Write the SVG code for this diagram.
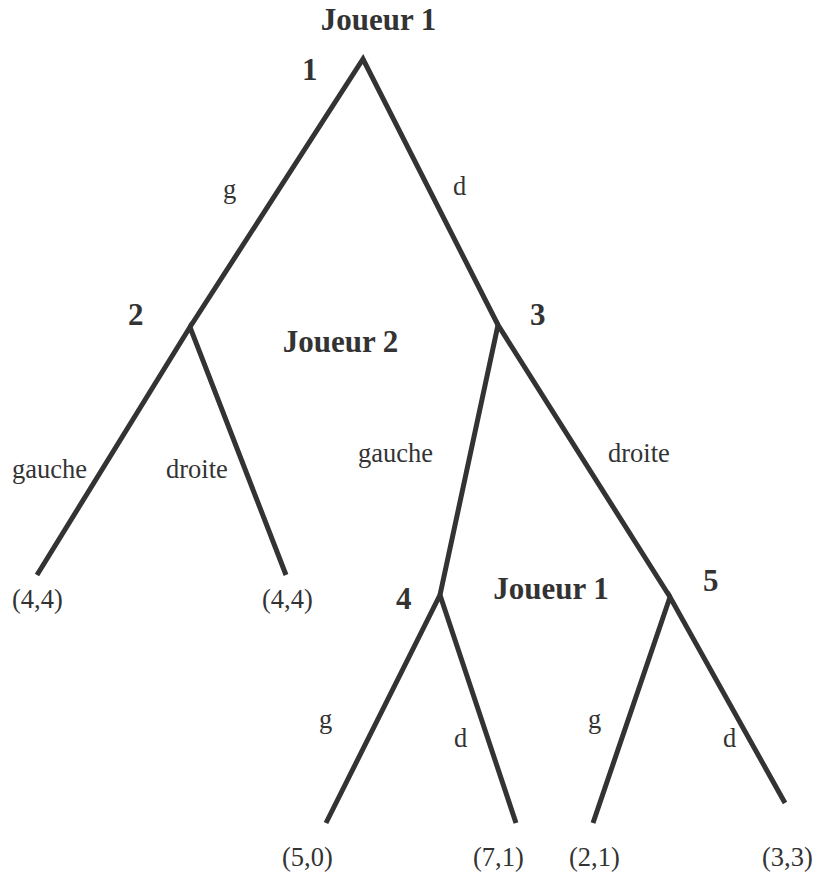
<svg xmlns="http://www.w3.org/2000/svg" width="813" height="874" viewBox="0 0 813 874">
<style>
.e{fill:none;stroke:#333;stroke-width:5;stroke-linecap:butt;stroke-linejoin:miter}
.b{font-family:"Liberation Serif","Times New Roman",serif;font-weight:bold;font-size:31px;fill:#333}
.r{font-family:"Liberation Serif","Times New Roman",serif;font-size:26.5px;fill:#333}
</style>
<rect width="813" height="874" fill="#fff"/>
<g id="connectors">
<polyline class="e" points="190,327 363,59 498,325"/>
<polyline class="e" points="37,575 190,327 286,575"/>
<polyline class="e" points="440,595 498,325 670,597"/>
<polyline class="e" points="326,823 440,595 516,823"/>
<polyline class="e" points="593,823 670,597 785,803"/>
<text class="r" x="223" y="198">g</text>
<text class="r" x="453" y="195">d</text>
<text class="r" x="12" y="478">gauche</text>
<text class="r" x="166" y="478">droite</text>
<text class="r" x="358" y="462">gauche</text>
<text class="r" x="608" y="462">droite</text>
<text class="r" x="319" y="728">g</text>
<text class="r" x="454" y="747">d</text>
<text class="r" x="588" y="728">g</text>
<text class="r" x="723" y="747">d</text>
</g>
<g id="node1">
<text class="b" x="378.5" y="30" text-anchor="middle">Joueur 1</text>
<text class="b" x="302" y="80">1</text>
</g>
<g id="node2">
<text class="b" x="128" y="325">2</text>
</g>
<g id="player2">
<text class="b" x="340.5" y="352" text-anchor="middle">Joueur 2</text>
</g>
<g id="node3">
<text class="b" x="530" y="325">3</text>
</g>
<g id="node4">
<text class="b" x="396" y="609">4</text>
</g>
<g id="player1b">
<text class="b" x="551" y="599" text-anchor="middle">Joueur 1</text>
</g>
<g id="node5">
<text class="b" x="703" y="591">5</text>
</g>
<g id="leaf-a"><text class="r" x="12" y="608">(4,4)</text></g>
<g id="leaf-b"><text class="r" x="262" y="608">(4,4)</text></g>
<g id="leaf-c"><text class="r" x="282" y="866">(5,0)</text></g>
<g id="leaf-d"><text class="r" x="473" y="866">(7,1)</text></g>
<g id="leaf-e"><text class="r" x="569" y="866">(2,1)</text></g>
<g id="leaf-f"><text class="r" x="762" y="866">(3,3)</text></g>
</svg>
